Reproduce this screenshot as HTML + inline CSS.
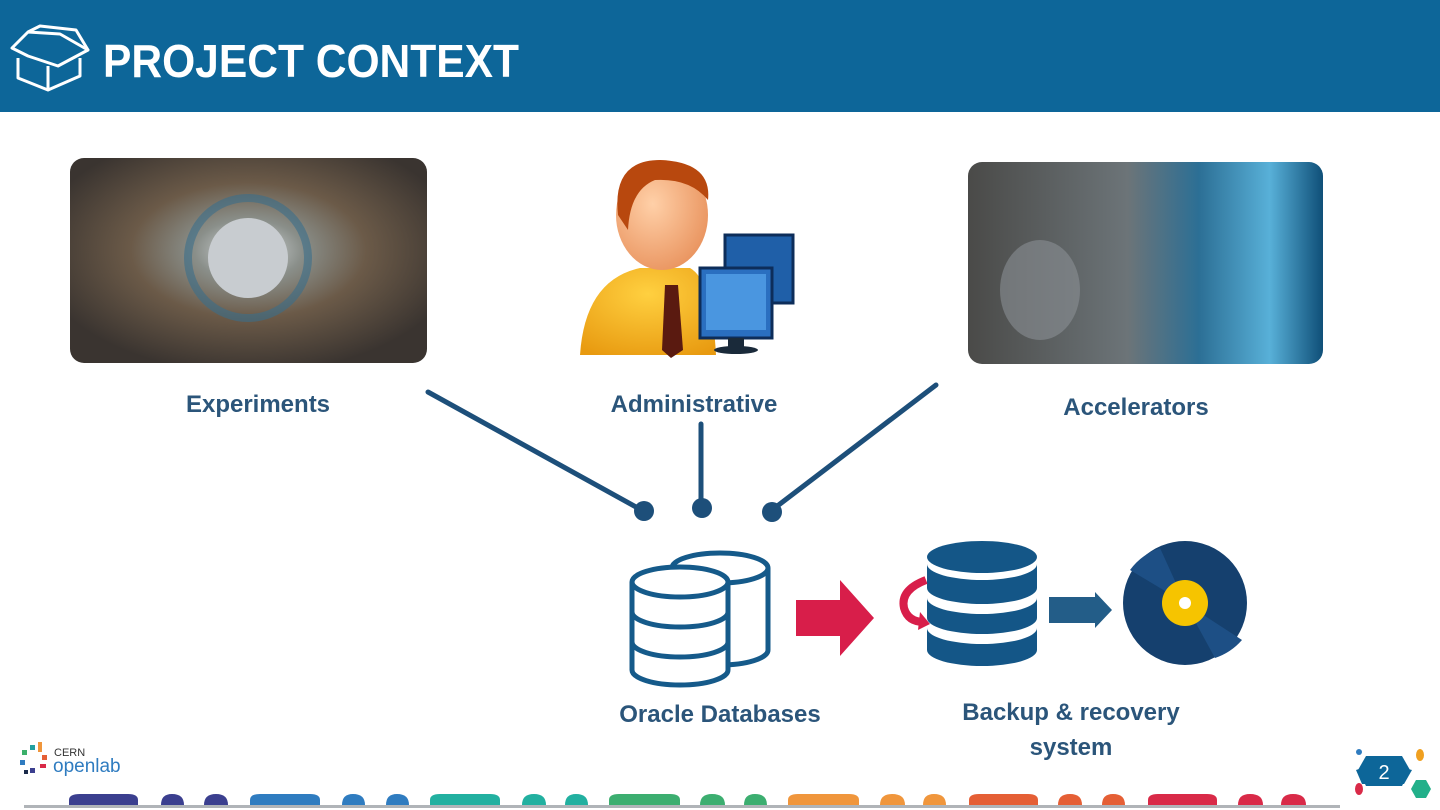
<!DOCTYPE html>
<html><head><meta charset="utf-8"><style>
html,body{margin:0;padding:0;background:#fff;}
svg{display:block}
text{font-family:"Liberation Sans",sans-serif;font-weight:bold}
</style></head><body>
<svg width="1440" height="810" viewBox="0 0 1440 810" xmlns="http://www.w3.org/2000/svg">
<defs>
<radialGradient id="exp" cx="0.5" cy="0.45" r="0.6"><stop offset="0" stop-color="#d9dde0"/><stop offset="0.25" stop-color="#8a8f8a"/><stop offset="0.55" stop-color="#6b5a48"/><stop offset="1" stop-color="#3a3430"/></radialGradient>
<linearGradient id="acc" x1="0" y1="0" x2="1" y2="0"><stop offset="0" stop-color="#4a4a48"/><stop offset="0.45" stop-color="#6c7478"/><stop offset="0.65" stop-color="#2c6f95"/><stop offset="0.85" stop-color="#58b0d8"/><stop offset="1" stop-color="#0f4f78"/></linearGradient>
<radialGradient id="face" cx="0.4" cy="0.4" r="0.7"><stop offset="0" stop-color="#ffd0a8"/><stop offset="1" stop-color="#e8905a"/></radialGradient>
<radialGradient id="body" cx="0.5" cy="0.3" r="0.8"><stop offset="0" stop-color="#ffd040"/><stop offset="1" stop-color="#e89a10"/></radialGradient>
</defs>
<!-- header -->
<rect x="0" y="0" width="1440" height="112" fill="#0d6699"/>
<g stroke="#fff" stroke-width="3" fill="none" stroke-linejoin="round">
<path d="M12 48 L28 32 L60 34 L88 50 L58 66 L28 56 Z"/>
<path d="M18 58 L18 78 L48 90 L80 76 L80 58"/>
<path d="M48 90 L48 66"/>
<path d="M28 32 L40 26 L76 30 L88 50"/>
</g>
<text x="103" y="77" font-size="46" fill="#fff" textLength="416" lengthAdjust="spacingAndGlyphs">PROJECT CONTEXT</text>

<!-- photos -->
<rect x="70" y="158" width="357" height="205" rx="14" fill="url(#exp)"/>
<circle cx="248" cy="258" r="60" fill="none" stroke="#3a6e8a" stroke-width="8" opacity="0.6"/>
<circle cx="248" cy="258" r="40" fill="#c8ccd0"/>
<rect x="968" y="162" width="355" height="202" rx="14" fill="url(#acc)"/>
<ellipse cx="1040" cy="290" rx="40" ry="50" fill="#8a9094" opacity="0.6"/>

<!-- admin person -->
<rect x="725" y="235" width="68" height="68" fill="#1f5fa8" stroke="#0d2d5a" stroke-width="3"/>
<path d="M580 355 Q585 280 640 268 L690 268 Q712 280 716 355 Z" fill="url(#body)"/>
<path d="M665 285 L678 285 L683 350 L671 358 L662 350 Z" fill="#5a1a10"/>
<ellipse cx="662" cy="215" rx="46" ry="55" fill="url(#face)"/>
<path d="M618 215 Q612 160 660 160 Q712 162 708 200 Q690 178 655 180 Q630 190 628 230 Z" fill="#b8480e"/>
<rect x="700" y="268" width="72" height="70" fill="#2a6fc0" stroke="#0d2d5a" stroke-width="3"/>
<rect x="706" y="274" width="60" height="56" fill="#4a96e0"/>
<rect x="728" y="338" width="16" height="10" fill="#1a2a3a"/>
<ellipse cx="736" cy="350" rx="22" ry="4" fill="#1a2a3a"/>

<!-- labels -->
<g fill="#2b557a" font-size="24">
<text x="258" y="412" text-anchor="middle">Experiments</text>
<text x="694" y="412" text-anchor="middle">Administrative</text>
<text x="1136" y="415" text-anchor="middle">Accelerators</text>
<text x="720" y="722" text-anchor="middle">Oracle Databases</text>
<text x="1071" y="720" text-anchor="middle">Backup &amp; recovery</text>
<text x="1071" y="755" text-anchor="middle">system</text>
</g>

<!-- connectors -->
<g stroke="#1d4f7a" stroke-width="5" stroke-linecap="round">
<line x1="428" y1="392" x2="636" y2="507"/>
<line x1="701" y1="424" x2="701" y2="500"/>
<line x1="936" y1="385" x2="776" y2="507"/>
</g>
<g fill="#1d4f7a">
<circle cx="644" cy="511" r="10"/>
<circle cx="702" cy="508" r="10"/>
<circle cx="772" cy="512" r="10"/>
</g>

<!-- oracle DB outline -->
<g stroke="#155a8a" stroke-width="5" fill="#fff">
<path d="M672 568 L672 650 A48 15 0 0 0 768 650 L768 568"/>
<ellipse cx="720" cy="568" rx="48" ry="15"/>
<path d="M632 582 L632 670 A48 15 0 0 0 728 670 L728 582"/>
<ellipse cx="680" cy="582" rx="48" ry="15"/>
<path d="M632 612 A48 15 0 0 0 728 612 M632 642 A48 15 0 0 0 728 642" fill="none"/>
</g>
<!-- red arrow -->
<polygon points="796,600 840,600 840,580 874,618 840,656 840,636 796,636" fill="#d81e4a"/>

<!-- backup DB -->
<g fill="#145687">
<ellipse cx="982" cy="557" rx="55" ry="16"/>
<path d="M927 564 A55 16 0 0 0 1037 564 L1037 588 A55 16 0 0 1 927 588 Z"/>
<path d="M927 598 A55 16 0 0 0 1037 598 L1037 618 A55 16 0 0 1 927 618 Z"/>
<path d="M927 628 A55 16 0 0 0 1037 628 L1037 650 A55 16 0 0 1 927 650 Z"/>
</g>
<path d="M926 580 Q900 590 904 608 Q908 622 924 622" stroke="#d81e4a" stroke-width="8" fill="none"/>
<polygon points="920,612 930,624 918,630" fill="#d81e4a"/>
<!-- blue arrow -->
<polygon points="1049,597 1095,597 1095,592 1112,610 1095,628 1095,623 1049,623" fill="#235d88"/>
<!-- disc -->
<circle cx="1185" cy="603" r="62" fill="#15406e"/>
<path d="M1185 603 L1130 570 A62 62 0 0 1 1160 548 Z" fill="#1d4f85"/>
<path d="M1185 603 L1242 640 A62 62 0 0 1 1215 658 Z" fill="#1d4f85"/>
<circle cx="1185" cy="603" r="23" fill="#f6c400"/>
<circle cx="1185" cy="603" r="6" fill="#fff"/>

<!-- openlab logo -->
<g>
<rect x="22" y="750" width="5" height="5" fill="#3bb06a"/><rect x="30" y="745" width="5" height="5" fill="#22a0a0"/>
<rect x="38" y="742" width="4" height="10" fill="#f0963c"/><rect x="42" y="755" width="5" height="5" fill="#e55f35"/>
<rect x="20" y="760" width="5" height="5" fill="#2f7cc0"/><rect x="30" y="768" width="5" height="5" fill="#3b3f8f"/>
<rect x="40" y="764" width="6" height="4" fill="#d92a48"/><rect x="24" y="770" width="4" height="4" fill="#1a2a4a"/>
</g>
<text x="54" y="756" font-size="11" font-weight="normal" fill="#333" style="font-weight:normal">CERN</text>
<text x="53" y="772" font-size="19" fill="#2f7cc0" style="font-weight:normal">openlab</text>

<!-- page number -->
<polygon points="1362,768 1404,768 1412,770 1404,784 1362,784 1356,770" fill="#0d6699"/>
<polygon points="1366,756 1402,756 1410,770 1402,786 1366,786 1358,770" fill="#0d6699"/>
<text x="1384" y="779" font-size="20" fill="#fff" text-anchor="middle" style="font-weight:normal">2</text>
<circle cx="1359" cy="752" r="3" fill="#2f7cc0"/>
<ellipse cx="1420" cy="755" rx="4" ry="6" fill="#f0a020"/>
<ellipse cx="1359" cy="789" rx="4" ry="6" fill="#d92a48"/>
<polygon points="1416,780 1426,780 1431,789 1426,798 1416,798 1411,789" fill="#22b08a"/>

<!-- bottom bar -->
<rect x="24" y="805" width="1316" height="3" fill="#b0b4b8"/>
<g>
<path d="M69 805 L69 800 Q69 794 80 794 L128 794 Q138 794 138 800 L138 805Z" fill="#3b3f8f"/>
<path d="M161 805 Q161 794 172 794 Q184 794 184 805Z" fill="#3b3f8f"/>
<path d="M204 805 Q204 794 216 794 Q228 794 228 805Z" fill="#3b3f8f"/>
<path d="M250 805 L250 800 Q250 794 260 794 L310 794 Q320 794 320 800 L320 805Z" fill="#2f7cc0"/>
<path d="M342 805 Q342 794 353 794 Q365 794 365 805Z" fill="#2f7cc0"/>
<path d="M386 805 Q386 794 397 794 Q409 794 409 805Z" fill="#2f7cc0"/>
<path d="M430 805 L430 800 Q430 794 440 794 L490 794 Q500 794 500 800 L500 805Z" fill="#22b0a0"/>
<path d="M522 805 Q522 794 534 794 Q546 794 546 805Z" fill="#22b0a0"/>
<path d="M565 805 Q565 794 576 794 Q588 794 588 805Z" fill="#22b0a0"/>
<path d="M609 805 L609 800 Q609 794 619 794 L670 794 Q680 794 680 800 L680 805Z" fill="#3cae70"/>
<path d="M700 805 Q700 794 712 794 Q725 794 725 805Z" fill="#3cae70"/>
<path d="M744 805 Q744 794 755 794 Q767 794 767 805Z" fill="#3cae70"/>
<path d="M788 805 L788 800 Q788 794 798 794 L849 794 Q859 794 859 800 L859 805Z" fill="#f0963c"/>
<path d="M880 805 Q880 794 892 794 Q905 794 905 805Z" fill="#f0963c"/>
<path d="M923 805 Q923 794 934 794 Q946 794 946 805Z" fill="#f0963c"/>
<path d="M969 805 L969 800 Q969 794 979 794 L1028 794 Q1038 794 1038 800 L1038 805Z" fill="#e55f35"/>
<path d="M1058 805 Q1058 794 1070 794 Q1082 794 1082 805Z" fill="#e55f35"/>
<path d="M1102 805 Q1102 794 1113 794 Q1125 794 1125 805Z" fill="#e55f35"/>
<path d="M1148 805 L1148 800 Q1148 794 1158 794 L1207 794 Q1217 794 1217 800 L1217 805Z" fill="#d92a48"/>
<path d="M1238 805 Q1238 794 1250 794 Q1263 794 1263 805Z" fill="#d92a48"/>
<path d="M1281 805 Q1281 794 1293 794 Q1306 794 1306 805Z" fill="#d92a48"/>
</g>
</svg>
</body></html>
